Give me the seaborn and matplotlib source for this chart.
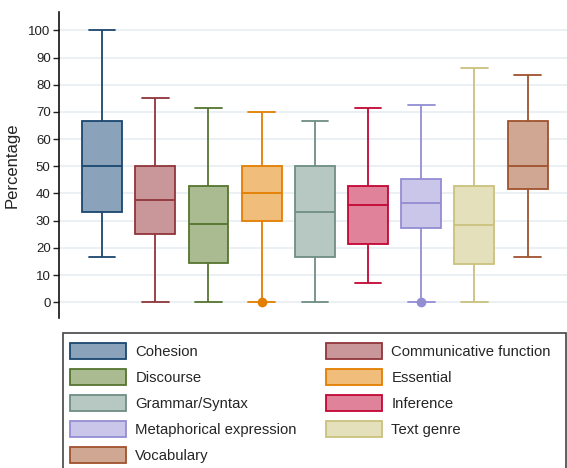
import numpy as np
import pandas as pd
import seaborn as sns
import matplotlib
matplotlib.use("Agg")
import matplotlib.pyplot as plt
from matplotlib.patches import Patch, Rectangle

categories = ["Cohesion", "Communicative function", "Discourse", "Essential",
              "Grammar/Syntax", "Inference", "Metaphorical expression",
              "Text genre", "Vocabulary"]
whisk_low = [16.7, 0.0, 0.0, 0.0, 0.0, 7.1, 0.0, 0.0, 16.5]
q1 = [33.3, 25.0, 14.3, 30.0, 16.5, 21.4, 27.3, 14.1, 41.8]
median = [50.0, 37.5, 28.6, 40.0, 33.3, 35.8, 36.4, 28.4, 50.2]
q3 = [66.7, 50.0, 42.9, 50.0, 50.0, 42.9, 45.2, 42.9, 66.7]
whisk_high = [100.0, 75.0, 71.4, 70.0, 66.7, 71.4, 72.4, 86.0, 83.5]
outlier_cat = ["Essential", "Metaphorical expression"]
outlier_val = [0.0, 0.0]
yticks = [0, 10, 20, 30, 40, 50, 60, 70, 80, 90, 100]

edge_colors = ["#1a476f", "#90353b", "#55752f", "#e37e00", "#6e8e84",
               "#c10534", "#938dd2", "#cac27e", "#a0522d"]
fill_colors = ["#8ba3ba", "#c9979a", "#aabb92", "#f0bd7a", "#b7c7c1",
               "#e0829a", "#c9c6ea", "#e4e0bb", "#cfa793"]

rows = []
for c, a, b, m, d, e in zip(categories, whisk_low, q1, median, q3, whisk_high):
    for v in (a, b, m, d, e):
        rows.append({"cat": c, "val": v})
df = pd.DataFrame(rows)
out_df = pd.DataFrame({"cat": outlier_cat, "val": outlier_val})

sns.set_style("white")
plt.rcParams["font.family"] = ["Liberation Sans", "DejaVu Sans"]

fig = plt.figure(figsize=(5.67, 4.68), dpi=100)
ax = fig.add_axes([0.104, 0.3205, 0.896, 0.6535])

BW = 0.75
sns.boxplot(data=df, x="cat", y="val", hue="cat", order=categories,
            hue_order=categories, palette=dict(zip(categories, fill_colors)),
            whis=(0, 100), width=BW, dodge=False, legend=False, ax=ax,
            fliersize=0, linewidth=1.3, saturation=1)

n = len(categories)
for i, p in enumerate(ax.patches):
    p.set_edgecolor(edge_colors[i])
    p.set_facecolor(fill_colors[i])
lines = list(ax.lines)
per = len(lines) // n
for i in range(n):
    for ln in lines[i * per:(i + 1) * per]:
        ln.set_color(edge_colors[i])
        xd = np.asarray(ln.get_xdata(), dtype=float)
        yd = np.asarray(ln.get_ydata(), dtype=float)
        if len(xd) == 2 and yd[0] == yd[1] and (xd.max() - xd.min()) < BW * 0.95 and (xd.max() - xd.min()) > 0:
            cx = xd.mean()
            ln.set_xdata([cx - 0.25, cx + 0.25])

sns.stripplot(data=out_df, x="cat", y="val", hue="cat", order=categories,
              hue_order=categories, palette=dict(zip(categories, edge_colors)),
              jitter=False, size=7, legend=False, ax=ax, zorder=5, clip_on=False)

ax.set_xlim(-0.81, 8.74)
ax.set_ylim(-5.8, 106.7)
ax.set_yticks(yticks)
ax.set_yticklabels([str(t) for t in yticks], fontsize=9.5)
ax.set_xticks([])
ax.set_xlabel("")
ax.set_ylabel("Percentage", fontsize=12, color="#222222", labelpad=6)
ax.tick_params(axis="y", length=4, width=1, color="#222222", labelcolor="#222222", pad=2, left=True)
ax.grid(axis="y", color="#e6edf1", linewidth=1.2)
ax.set_axisbelow(True)
for s in ["top", "right", "bottom"]:
    ax.spines[s].set_visible(False)
ax.spines["left"].set_color("#111111")
ax.spines["left"].set_linewidth(1.2)

# legend frame
fig.patches.append(Rectangle((63 / 567, -0.01), (566 - 63) / 567, (468 - 333) / 468 + 0.01,
                             transform=fig.transFigure, fill=False,
                             edgecolor="#444444", linewidth=1.2))
col1 = [0, 2, 4, 6, 8]
col2 = [1, 3, 5, 7]
leg_kw = dict(loc="upper left", frameon=False, fontsize=10.7, handlelength=3.8,
              handleheight=1.3, handletextpad=0.6, labelspacing=0.66,
              borderpad=0, borderaxespad=0)
for cols, x0 in ((col1, 70), (col2, 326)):
    handles = [Patch(facecolor=fill_colors[i], edgecolor=edge_colors[i], linewidth=1.3,
                     label=categories[i]) for i in cols]
    fig.legend(handles=handles, bbox_to_anchor=(x0 / 567, 1 - 343 / 468), **leg_kw)

fig.savefig("out.png", dpi=100)
